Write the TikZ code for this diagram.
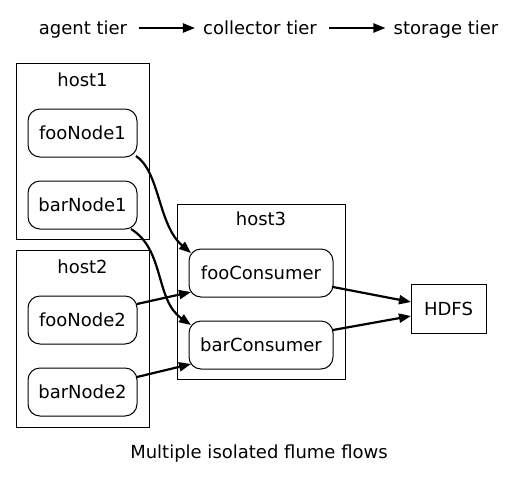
\documentclass[tikz,border=0pt]{standalone}
\usepackage{fontspec}
\setmainfont{DejaVu Sans}
\usetikzlibrary{arrows.meta}
\begin{document}
\begin{tikzpicture}[x=1pt,y=-1pt,
  every node/.style={font=\fontsize{18}{21}\selectfont},
  hostbox/.style={draw, line width=1pt, inner sep=0pt},
  procbox/.style={draw, line width=1pt, rounded corners=12pt, minimum width=109pt, minimum height=48pt, inner sep=0pt},
  consbox/.style={draw, line width=1pt, rounded corners=12pt, minimum width=144pt, minimum height=48pt, inner sep=0pt},
  plainbox/.style={draw, line width=1pt, minimum width=75pt, minimum height=49pt, inner sep=0pt},
  txt/.style={inner sep=0pt, anchor=base},
  flow/.style={line width=2.2pt, -{Triangle[length=12pt,width=9pt]}},
]
\useasboundingbox (0,0) rectangle (519,477);
% top legend
\node[txt] (agent) at (83,34) {agent tier};
\node[txt] (coll) at (260,34) {collector tier};
\node[txt] (stor) at (446,34) {storage tier};
\draw[flow] ([xshift=12pt,yshift=6pt]agent.base east) -- ([xshift=-8pt,yshift=6pt]coll.base west);
\draw[flow] ([xshift=12pt,yshift=6pt]coll.base east) -- ([xshift=-8pt,yshift=6pt]stor.base west);
% host boxes
\draw[hostbox] (16,63) rectangle (149,239);
\node[txt] (h1) at (82.5,86) {host1};
\draw[hostbox] (16,250) rectangle (149,427);
\node[txt] (h2) at (82.5,273) {host2};
\draw[hostbox] (177,204) rectangle (345,379);
\node[txt] (h3) at (261,225) {host3};
% process nodes
\node[procbox] (f1) at (82.5,133) {fooNode1};
\node[procbox] (b1) at (82.5,205) {barNode1};
\node[procbox] (f2) at (82.5,320) {fooNode2};
\node[procbox] (b2) at (82.5,392) {barNode2};
\node[consbox] (fc) at (261,273) {fooConsumer};
\node[consbox] (bc) at (261,345) {barConsumer};
\node[plainbox] (hdfs) at (448.5,308.5) {HDFS};
% edges
\draw[flow] (136,156) .. controls (160,172) and (158,225) .. (191,253);
\draw[flow] (131,229) .. controls (165,250) and (155,300) .. (191,325);
\draw[flow] (137,304) -- (191,292);
\draw[flow] (137,377) -- (191,364);
\draw[flow] (333,287) -- (411,302);
\draw[flow] (333,330) -- (411,316);
% caption
\node[txt] (cap) at (259,458) {Multiple isolated flume flows};
\end{tikzpicture}
\end{document}
